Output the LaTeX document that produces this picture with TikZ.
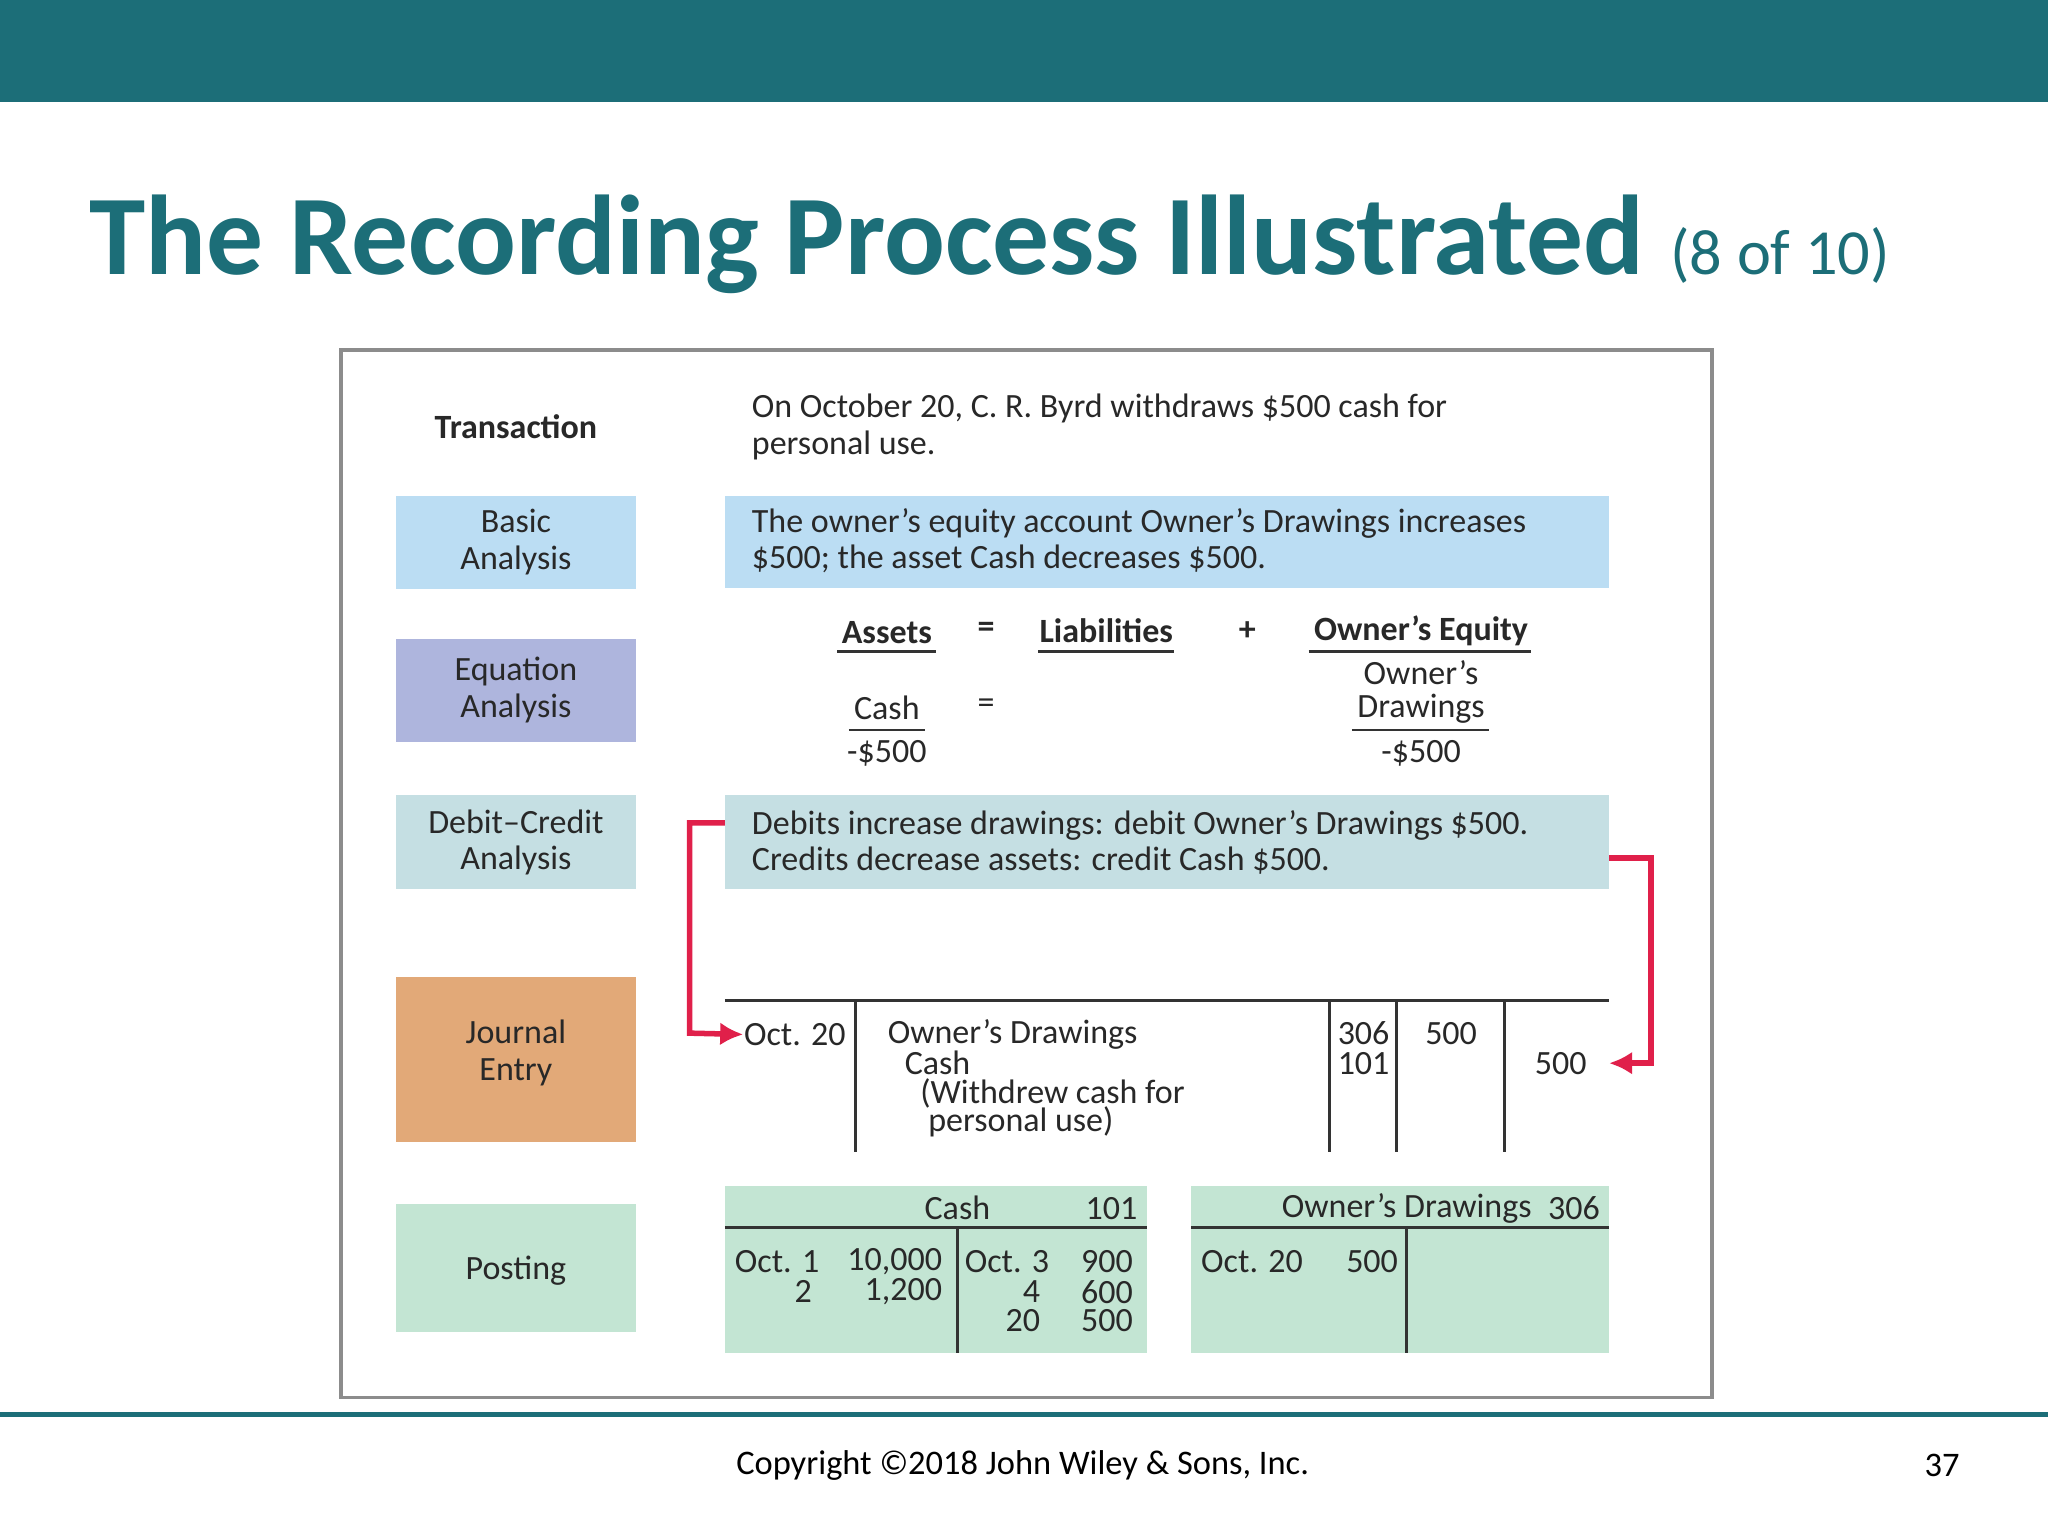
\documentclass[tikz,border=0pt]{standalone}
\usepackage{fontspec}
\setmainfont{Carlito}
\usetikzlibrary{arrows.meta}
\definecolor{teal1}{RGB}{28,110,120}
\definecolor{bblue}{RGB}{187,221,243}
\definecolor{lav}{RGB}{174,181,221}
\definecolor{dcb}{RGB}{197,223,227}
\definecolor{orng}{RGB}{226,169,120}
\definecolor{grn}{RGB}{195,229,211}
\definecolor{redar}{RGB}{224,32,74}
\definecolor{txt}{RGB}{40,40,40}
\begin{document}
\begin{tikzpicture}[x=0.01cm,y=-0.01cm,
  t/.style={font=\fontsize{7.4}{8}\selectfont,text=txt,inner sep=0},
  tl/.style={t,anchor=west,align=left},
  tc/.style={t,align=center},
  tb/.style={t,font=\fontsize{7.4}{8}\selectfont\bfseries},
  arr/.style={draw=redar,line width=1.2pt,-{Latex[length=5pt,width=5pt]}},
  jl/.style={draw=black!80,line width=0.6pt}]
\useasboundingbox (0,0) rectangle (1568,1176);
\fill[white] (0,0) rectangle (1568,1176);
\fill[teal1] (0,0) rectangle (1568,78);
\node[anchor=base west,inner sep=0,text=teal1] (title) at (68,210) {\fontsize{24.7}{28}\selectfont\bfseries The Recording Process Illustrated \fontsize{14}{17}\mdseries(8 of 10)};
\draw[black!45,line width=0.8pt] (261,268) rectangle (1311,1070);
% left boxes
\fill[bblue] (303,380) rectangle (487,451);
\fill[lav] (303,489) rectangle (487,568);
\fill[dcb] (303,609) rectangle (487,681);
\fill[orng] (303,748) rectangle (487,874);
\fill[grn] (303,922) rectangle (487,1020);
\node[tb] (tr) at (395,327) {Transaction};
\node[tc] (ba) at (395,415) {Basic\\Analysis};
\node[tc] (ea) at (395,528) {Equation\\Analysis};
\node[tc] (dc) at (395,645) {Debit--Credit\\Analysis};
\node[tc] (je) at (395,806) {Journal\\Entry};
\node[tc] (po) at (395,973) {Posting};
% right
\node[tl] (trt) at (575,327) {On October 20, C. R. Byrd withdraws \$500 cash for\\personal use.};
\fill[bblue] (555,380) rectangle (1232,450);
\node[tl] (bat) at (575,414) {The owner’s equity account Owner’s Drawings increases\\\$500; the asset Cash decreases \$500.};
\fill[dcb] (555,609) rectangle (1232,681);
\node[tl] (dct) at (575,645) {Debits increase drawings: debit Owner’s Drawings \$500.\\Credits decrease assets: credit Cash \$500.};
% equation
\node[tb] (as) at (679,484) {Assets};
\draw[jl] (641,499) -- (717,499);
\node[tb] (eq1) at (755,482) {=};
\node[tb] (li) at (847,483) {Liabilities};
\draw[jl] (795,499) -- (899,499);
\node[tb] (pl) at (955,483) {+};
\node[tb] (oe) at (1088,483) {Owner's Equity};
\draw[jl] (1002,499) -- (1172,499);
\node[t] (ow) at (1088,515) {Owner's};
\node[t] (cash) at (679,542) {Cash};
\node[t] (eq2) at (755,541) {=};
\node[t] (dr) at (1088,543) {Drawings};
\draw[jl] (650,559) -- (708,559);
\draw[jl] (1035,559) -- (1140,559);
\node[t] (m1) at (679,577) {-\$500};
\node[t] (m2) at (1088,577) {-\$500};
% journal
\draw[jl] (555,766) -- (1232,766);
\foreach \x in {655,1018,1069,1152} \draw[jl] (\x,766) -- (\x,882);
\node[tl] (oct) at (569,792) {Oct. 20};
\node[tl] (j1) at (679,792) {Owner's Drawings};
\node[tl] (j2) at (692,814) {Cash};
\node[tl] (j3) at (704,837) {(Withdrew cash for};
\node[tl] (j4) at (710,859) {personal use)};
\node[t] (r1) at (1044,791) {306};
\node[t] (r2) at (1044,814) {101};
\node[t] (d1) at (1111,791) {500};
\node[t] (c1) at (1195,814) {500};
\coordinate (a1) at (528,630);
\coordinate (a2) at (528,791);
\coordinate (b1) at (1264,657);
\coordinate (b2) at (1264,814);
\draw[arr] (555,630) -- (a1) -- (a2) -- (oct.west);
\draw[arr] (1232,657) -- (b1) -- (b2) -- (1232,814);
% posting
\fill[grn] (555,908) rectangle (878,1036);
\fill[grn] (912,908) rectangle (1232,1036);
\draw[jl] (555,940) -- (878,940);
\draw[jl] (912,940) -- (1232,940);
\draw[jl] (733,940) -- (733,1036);
\draw[jl] (1077,940) -- (1077,1036);
\node[t] (ch) at (733,925) {Cash};
\node[t] (ch2) at (851,925) {101};
\node[t] (odh) at (1077,925) {Owner's Drawings};
\node[t] (odh2) at (1205,925) {306};
\node[tl] (p1) at (562,966) {Oct. 1};
\node[t] (p2) at (615,989) {2};
\node[t,anchor=east] (p3) at (722,966) {10,000};
\node[t,anchor=east] (p4) at (722,989) {1,200};
\node[tl] (p5) at (738,966) {Oct. 3};
\node[t,anchor=east] (p6) at (797,989) {4};
\node[t,anchor=east] (p7) at (797,1011) {20};
\node[t,anchor=east] (p8) at (868,966) {900};
\node[t,anchor=east] (p9) at (868,989) {600};
\node[t,anchor=east] (p10) at (868,1011) {500};
\node[tl] (q1) at (919,966) {Oct. 20};
\node[t,anchor=east] (q2) at (1071,966) {500};
% footer
\draw[teal1,line width=1pt] (0,1083) -- (1568,1083);
\node[inner sep=0] (cp) at (783,1122) {\fontsize{7.5}{9}\selectfont Copyright ©2018 John Wiley \& Sons, Inc.};
\node[inner sep=0] (pg) at (1487,1122) {\fontsize{7.5}{9}\selectfont 37};
\end{tikzpicture}
\end{document}
